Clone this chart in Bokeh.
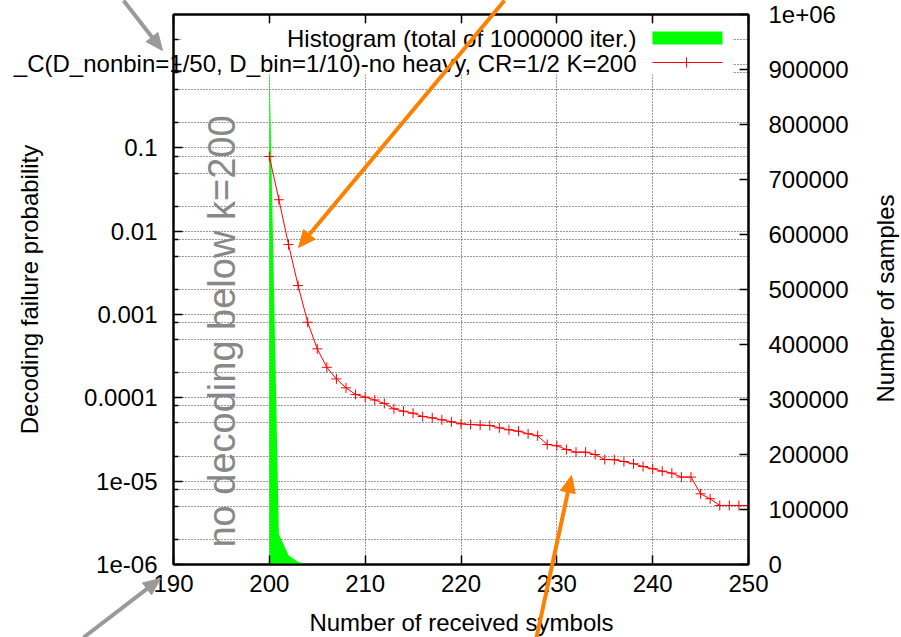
import math
from bokeh.plotting import figure
from bokeh.models import (Range1d, LinearAxis, LinearScale, FixedTicker, CustomJSTickFormatter,
                          Label, BoxAnnotation)
from bokeh.core.properties import value
from bokeh.embed import file_html
from bokeh.resources import INLINE

# ---------------- data ----------------
received_symbols = list(range(200, 251))
failure_probability = [
    0.0789, 0.0239, 0.00693, 0.00223, 0.000809, 0.000388, 0.000233, 0.000169,
    0.000132, 0.000110, 0.000102, 0.0000944, 0.0000857, 0.0000740, 0.0000692,
    0.0000655, 0.0000598, 0.0000576, 0.0000545, 0.0000516, 0.0000488, 0.0000479,
    0.0000472, 0.0000466, 0.0000437, 0.0000414, 0.0000398, 0.0000371, 0.0000351,
    0.0000276, 0.0000266, 0.0000240, 0.0000223, 0.0000223, 0.0000209, 0.0000182,
    0.0000181, 0.0000172, 0.0000162, 0.0000150, 0.0000141, 0.0000132, 0.0000125,
    0.0000112, 0.0000112, 0.00000706, 0.00000615, 0.00000511, 0.00000511,
    0.00000511, 0.00000511,
]
hist_symbols = list(range(200, 251))
hist_counts = [
    922000, 55000, 17000, 4700, 1400, 420, 160, 64, 37, 22,
    10, 8, 9, 12, 5, 4, 6, 2, 3, 3,
    1, 2, 1, 1, 3, 2, 2, 3, 2, 7,
    1, 3, 2, 0, 1, 3, 0, 1, 1, 1,
    1, 1, 1, 1, 0, 4, 1, 1, 0, 0, 0,
]

x_ticks = [190, 200, 210, 220, 230, 240, 250]
x_tick_labels = ["190", "200", "210", "220", "230", "240", "250"]
left_ticks = [1e-6, 1e-5, 1e-4, 1e-3, 1e-2, 1e-1, 1.0]
left_tick_labels = ["1e-06", "1e-05", "0.0001", "0.001", "0.01", "0.1", ""]
right_ticks = [0, 100000, 200000, 300000, 400000, 500000, 600000, 700000, 800000, 900000, 1000000]
right_tick_labels = ["0", "100000", "200000", "300000", "400000", "500000",
                     "600000", "700000", "800000", "900000", "1e+06"]

legend_labels = ["Histogram (total of 1000000 iter.)",
                 "_C(D_nonbin=1/50, D_bin=1/10)-no heavy, CR=1/2 K=200"]
x_title = "Number of received symbols"
y_title = "Decoding failure probability"
y2_title = "Number of samples"
note_text = "no decoding below k=200"

X_MIN, X_MAX = 190, 250
Y_MIN, Y_MAX = 1e-6, 4.0
N_MIN, N_MAX = 0, 1000000

W, H = 901, 637
FX0, FX1, FY0, FY1 = 173, 748, 14, 564   # plot frame in canvas pixels


def xd(px):
    return X_MIN + (px - FX0) * (X_MAX - X_MIN) / (FX1 - FX0)


def yd(py):
    l0, l1 = math.log10(Y_MIN), math.log10(Y_MAX)
    return 10 ** (l0 + (FY1 - py) * (l1 - l0) / (FY1 - FY0))


FONT = "Liberation Sans"
FS = "24px"

p = figure(width=W, height=H, output_backend="svg", toolbar_location=None,
           x_range=Range1d(X_MIN, X_MAX), y_range=Range1d(Y_MIN, Y_MAX),
           y_axis_type="log",
           min_border_left=FX0, min_border_right=W - FX1,
           min_border_top=FY0, min_border_bottom=H - FY1)
p.extra_y_ranges = {"samples": Range1d(N_MIN, N_MAX)}
p.extra_y_scales = {"samples": LinearScale()}
p.outline_line_color = "black"
p.outline_line_width = 2
p.background_fill_color = "white"
p.border_fill_color = "white"

# grids
minor_left = [k * d for d in left_ticks for k in (2, 5, 8)]
for g in (p.xgrid, p.ygrid):
    g.grid_line_color = "#333333"
    g.grid_line_dash = "1 2"
    g.grid_line_width = 1
p.ygrid.minor_grid_line_color = "#333333"
p.ygrid.minor_grid_line_dash = "1 2"
p.ygrid.minor_grid_line_width = 1


def fmt(vals, labs):
    return CustomJSTickFormatter(args=dict(vals=vals, labs=labs), code="""
        for (let i = 0; i < vals.length; i++) {
            if (Math.abs(tick - vals[i]) <= 1e-9 * Math.max(1, Math.abs(vals[i]))) return labs[i];
        }
        return "";
    """)


def style_axis(ax):
    ax.axis_line_color = "black"
    ax.axis_line_width = 2
    ax.major_tick_in = 9
    ax.major_tick_out = 0
    ax.major_tick_line_width = 1.5
    ax.major_tick_line_color = "black"
    ax.minor_tick_in = 5
    ax.minor_tick_out = 0
    ax.minor_tick_line_width = 1.5
    ax.minor_tick_line_color = "black"
    ax.major_label_text_font = FONT
    ax.major_label_text_font_size = FS
    ax.major_label_text_color = "black"
    ax.axis_label_text_font = FONT
    ax.axis_label_text_font_size = FS
    ax.axis_label_text_font_style = "normal"
    ax.axis_label_text_color = "black"


xa = p.xaxis[0]
xa.ticker = FixedTicker(ticks=x_ticks, minor_ticks=[])
xa.formatter = fmt(x_ticks, x_tick_labels)
style_axis(xa)
xa.major_label_standoff = 10

ya = p.yaxis[0]
ya.ticker = FixedTicker(ticks=left_ticks, minor_ticks=minor_left)
ya.formatter = fmt(left_ticks, left_tick_labels)
style_axis(ya)
ya.major_label_standoff = 16
ya.axis_label = y_title
ya.axis_label_standoff = 38

ra = LinearAxis(y_range_name="samples",
                ticker=FixedTicker(ticks=right_ticks, minor_ticks=[]),
                formatter=fmt(right_ticks, right_tick_labels))
style_axis(ra)
ra.major_label_standoff = 20
p.add_layout(ra, "right")

ta = LinearAxis(ticker=FixedTicker(ticks=x_ticks, minor_ticks=[]),
                formatter=fmt(x_ticks, ["" for _ in x_ticks]))
style_axis(ta)
ta.major_label_text_font_size = "0px"
ta.major_label_standoff = 0
p.add_layout(ta, "above")

# histogram (right axis)
p.varea(x=hist_symbols, y1=0, y2=hist_counts, y_range_name="samples",
        fill_color="#00ff00", fill_alpha=1)

# failure probability curve (left axis)
p.line(received_symbols, failure_probability, line_color="#ff0000", line_width=1)
p.scatter(received_symbols, failure_probability, marker="cross", size=10,
          line_color="#ff0000", line_width=1)

# opaque key box
p.add_layout(BoxAnnotation(left=xd(181), right=xd(732), top=yd(23), bottom=yd(74),
                           fill_color="white", fill_alpha=1, line_color=None))
p.add_layout(BoxAnnotation(left=xd(652), right=xd(722), top=yd(31), bottom=yd(44),
                           fill_color="#00ff00", fill_alpha=1, line_color=None))

# rotated note inside the frame
p.add_layout(Label(x=xd(221), y=yd(331), text=note_text, text_align="center",
                   text_baseline="middle", angle=math.pi / 2, text_font=FONT,
                   text_font_size="38px", text_color="#888888"))

# key texts (overlay level so the long one may pass the frame edge)
p.text(x=[xd(636), xd(636)], y=[yd(38), yd(63)], text=legend_labels,
       text_align="right", text_baseline="middle", text_font=value(FONT),
       text_font_size=value(FS), text_color="black", level="overlay")
p.segment(x0=[xd(652)], y0=[yd(62)], x1=[xd(722)], y1=[yd(62)],
          line_color="#ff0000", line_width=1, level="overlay")
p.scatter(x=[xd(686)], y=[yd(62)], marker="cross", size=10,
          line_color="#ff0000", line_width=1, level="overlay")

# axis titles drawn as overlay text
p.text(x=[xd(461)], y=[yd(622)], text=[x_title], text_align="center",
       text_baseline="middle", text_font=value(FONT), text_font_size=value(FS),
       text_color="black", level="overlay")
p.text(x=[xd(885)], y=[yd(298)], text=[y2_title], text_align="center",
       text_baseline="middle", angle=math.pi / 2, text_font=value(FONT),
       text_font_size=value(FS), text_color="black", level="overlay")

# annotation arrows
GRAY = "#9a9a9a"
ORANGE = "#ff8000"
arrows = [(123, 0, 162, 50, GRAY),
          (504, 0, 298, 247, ORANGE),
          (536, 637, 571, 475, ORANGE),
          (83, 637, 160, 578, GRAY)]
for (x0, y0, x1, y1, col) in arrows:
    dx, dy = x1 - x0, y1 - y0
    d = math.hypot(dx, dy)
    ux, uy = dx / d, dy / d
    hl, hw = 17, 7.5
    bx, by = x1 - hl * ux, y1 - hl * uy
    nx, ny = -uy, ux
    p.segment(x0=[xd(x0)], y0=[yd(y0)], x1=[xd(bx + 2 * ux)], y1=[yd(by + 2 * uy)],
              line_color=col, line_width=4, level="overlay")
    tri_x = [xd(x1), xd(bx + hw * nx), xd(bx - hw * nx)]
    tri_y = [yd(y1), yd(by + hw * ny), yd(by - hw * ny)]
    p.patch(x=tri_x, y=tri_y, fill_color=col, line_color=col, line_width=1,
            level="overlay")

open("out.html", "w").write(file_html(p, INLINE))
